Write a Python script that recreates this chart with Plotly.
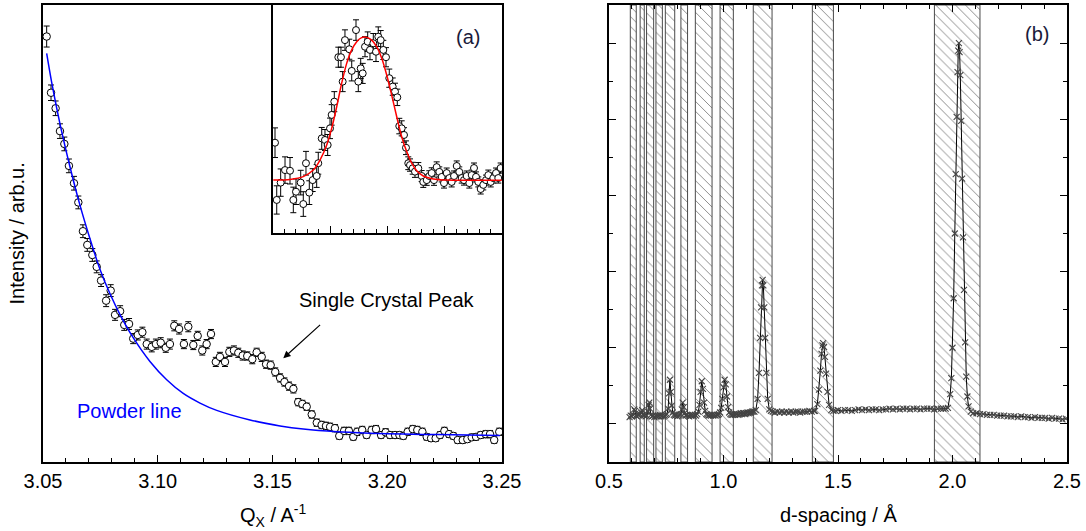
import plotly.graph_objects as go

FONT = "Arial, Liberation Sans, sans-serif"

# ---------------- Panel (a): single-crystal peak on powder background ----------------
q_main = [3.0516, 3.0535, 3.0555, 3.0574, 3.0593, 3.0613, 3.0635, 3.0654, 3.0674, 3.0693,
          3.0715, 3.0734, 3.0753, 3.0775, 3.0795, 3.0814, 3.0836, 3.0854, 3.0875, 3.0893,
          3.0913, 3.0933, 3.0952, 3.0974, 3.0992, 3.1013, 3.1035, 3.1053, 3.1072, 3.1093,
          3.1114, 3.1133, 3.1155, 3.1174, 3.1194, 3.1213, 3.1232, 3.1253, 3.1271, 3.1293,
          3.1312, 3.1332, 3.1351, 3.1370, 3.1390, 3.1412, 3.1431, 3.1453, 3.1472, 3.1492,
          3.1512, 3.1533, 3.1552, 3.1572, 3.1591, 3.1612, 3.1630, 3.1649, 3.1671, 3.1693,
          3.1714, 3.1733, 3.1751, 3.1772, 3.1791, 3.1812, 3.1833, 3.1852, 3.1869, 3.1891,
          3.1910, 3.1932, 3.1951, 3.1973, 3.1993, 3.2012, 3.2034, 3.2053, 3.2070, 3.2089,
          3.2111, 3.2131, 3.2153, 3.2172, 3.2191, 3.2211, 3.2230, 3.2249, 3.2269, 3.2288,
          3.2307, 3.2329, 3.2349, 3.2368, 3.2387, 3.2407, 3.2429, 3.2448, 3.2466, 3.2488]
i_main = [93.1, 80.8, 77.4, 72.4, 69.6, 64.8, 61.0, 56.8, 50.5, 47.5,
          45.3, 42.7, 39.7, 35.3, 37.5, 32.2, 33.0, 30.0, 30.2, 27.0,
          27.8, 28.4, 25.8, 25.2, 25.8, 26.1, 25.0, 25.8, 29.8, 29.1,
          25.8, 29.6, 25.6, 27.6, 24.4, 25.8, 28.0, 21.9, 23.0, 21.9,
          24.1, 24.4, 23.9, 23.3, 23.2, 22.5, 24.0, 23.0, 21.4, 21.2,
          19.7, 18.4, 17.5, 16.6, 16.0, 13.1, 12.7, 12.1, 10.4, 8.6,
          8.1, 7.9, 7.7, 7.4, 5.7, 6.8, 6.8, 5.5, 6.6, 7.0,
          5.9, 7.0, 7.2, 5.9, 6.5, 5.9, 5.9, 5.9, 5.7, 6.6,
          7.2, 7.0, 6.6, 5.5, 5.2, 5.2, 5.9, 6.8, 6.1, 5.7,
          4.8, 4.8, 5.0, 5.4, 5.5, 5.9, 6.1, 6.1, 4.8, 6.6]
err_main = [2.3, 1.7, 1.6, 1.6, 1.5, 1.5, 1.5, 1.4, 1.4, 1.4,
            1.4, 1.3, 1.3, 1.3, 1.3, 1.2, 1.2, 1.2, 1.2, 1.1,
            1.1, 1.1, 1.1, 1.1, 1.1, 1.1, 1.0, 1.1, 1.1, 1.1,
            1.0, 1.1, 1.0, 1.0, 1.0, 1.0, 1.0, 1.0, 1.0, 1.0,
            1.0, 1.0, 1.0, 1.0, 0.9, 1.0, 0.9, 1.0, 0.9, 0.9,
            0.9, 0.9, 0.9, 0.9, 0.9, 0.8, 0.8, 0.8, 0.8, 0.8,
            0.8, 0.8, 0.8, 0.8, 0.7, 0.8, 0.8, 0.7, 0.8, 0.8,
            0.7, 0.8, 0.8, 0.7, 0.8, 0.7, 0.7, 0.7, 0.7, 0.8,
            0.8, 0.8, 0.8, 0.7, 0.7, 0.7, 0.7, 0.8, 0.7, 0.7,
            0.7, 0.7, 0.7, 0.7, 0.7, 0.7, 0.8, 0.8, 0.7, 0.8]

# powder background line
q_powder = [3.0516, 3.0538, 3.0574, 3.0618, 3.0661, 3.0705, 3.0748, 3.0792, 3.0836, 3.0893,
            3.0966, 3.1039, 3.1111, 3.1184, 3.1257, 3.1402, 3.1533, 3.1634, 3.1780, 3.1925,
            3.2070, 3.2215, 3.2491]
i_powder = [89.4, 83.0, 74.0, 64.5, 56.2, 48.8, 42.2, 36.8, 32.2, 27.2,
            22.0, 18.0, 15.0, 12.9, 11.3, 9.2, 7.9, 7.2, 6.6, 6.3,
            6.1, 6.0, 5.8]

# ---------------- Inset: scan through the single-crystal peak ----------------
u_inset = [-1.965, -1.935, -1.866, -1.790, -1.703, -1.645, -1.598, -1.516, -1.471, -1.424,
           -1.366, -1.307, -1.237, -1.209, -1.149, -1.092, -1.045, -1.004, -0.975, -0.929,
           -0.859, -0.813, -0.783, -0.743, -0.667, -0.625, -0.550, -0.510, -0.468, -0.433,
           -0.393, -0.346, -0.306, -0.248, -0.201, -0.161, -0.119, -0.073, -0.026, 0.031,
           0.091, 0.131, 0.171, 0.206, 0.248, 0.288, 0.323, 0.363, 0.393, 0.440,
           0.480, 0.538, 0.597, 0.625, 0.685, 0.730, 0.772, 0.812, 0.859, 0.905,
           0.947, 0.987, 1.034, 1.080, 1.121, 1.162, 1.209, 1.254, 1.296, 1.336,
           1.383, 1.429, 1.471, 1.511, 1.546, 1.586, 1.628, 1.673, 1.721, 1.761,
           1.803, 1.848, 1.895, 1.935, 1.976]
v_inset = [39.6, 14.5, 22.1, 27.6, 27.3, 14.5, 18.1, 22.1, 12.7, 30.6,
           17.7, 23.2, 25.0, 30.6, 41.5, 40.8, 38.6, 45.9, 51.8, 57.6,
           77.1, 77.1, 66.4, 84.6, 80.6, 71.1, 89.0, 66.4, 72.2, 70.0,
           81.7, 83.9, 80.3, 83.2, 79.5, 86.1, 84.6, 80.3, 77.1, 67.9,
           64.2, 62.0, 59.5, 46.9, 45.9, 43.0, 37.4, 30.6, 29.8, 28.4,
           26.9, 28.4, 25.0, 22.4, 23.2, 25.0, 26.3, 23.2, 28.9, 26.8,
           24.6, 21.9, 26.3, 24.1, 22.4, 25.0, 29.4, 26.8, 24.1, 23.2,
           25.0, 21.9, 25.4, 28.5, 24.6, 22.4, 19.3, 21.1, 23.2, 25.4,
           22.4, 24.1, 26.3, 24.1, 28.5]
err_inset = [6.5, 6.2, 6.0, 5.8, 5.8, 5.6, 5.6, 5.4, 5.4, 5.2,
             5.2, 5.0, 5.0, 4.8, 4.8, 4.6, 4.6, 4.5, 4.5, 4.4,
             4.4, 4.4, 4.4, 4.5, 4.4, 4.4, 4.5, 4.4, 4.4, 4.4,
             4.4, 4.3, 4.3, 4.3, 4.3, 4.3, 4.2, 4.2, 4.2, 4.0,
             3.8, 3.7, 3.6, 3.4, 3.3, 3.2, 3.0, 2.8, 2.7, 2.6,
             2.5, 2.5, 2.4, 2.4, 2.3, 2.3, 2.3, 2.3, 2.3, 2.2,
             2.2, 2.2, 2.2, 2.2, 2.2, 2.2, 2.2, 2.2, 2.2, 2.2,
             2.2, 2.2, 2.2, 2.2, 2.2, 2.2, 2.2, 2.2, 2.2, 2.2,
             2.2, 2.2, 2.2, 2.2, 2.2]

# fitted peak profile
u_fit = [-1.995, -1.703, -1.471, -1.296, -1.179, -1.062, -0.975, -0.887, -0.800, -0.713,
         -0.625, -0.538, -0.451, -0.363, -0.276, -0.189, -0.101, -0.014, 0.073, 0.161,
         0.248, 0.335, 0.423, 0.510, 0.625, 0.800, 1.034, 1.441, 1.995]
v_fit = [23.2, 23.5, 24.7, 27.6, 32.0, 38.6, 45.9, 55.4, 65.7, 74.4,
         80.3, 83.9, 85.7, 85.8, 84.6, 81.7, 76.6, 69.3, 60.5, 51.0,
         42.2, 35.7, 30.6, 27.3, 25.0, 23.7, 23.2, 23.1, 23.1]

# ---------------- Panel (b): powder pattern vs d-spacing ----------------
d_spacing = [0.590, 0.595, 0.600, 0.605, 0.610, 0.614, 0.618, 0.622, 0.627, 0.632,
             0.636, 0.640, 0.645, 0.650, 0.655, 0.660, 0.665, 0.670, 0.673, 0.676,
             0.679, 0.683, 0.688, 0.693, 0.698, 0.703, 0.708, 0.713, 0.718, 0.723,
             0.728, 0.733, 0.738, 0.743, 0.748, 0.753, 0.758, 0.762, 0.766, 0.770,
             0.774, 0.778, 0.783, 0.788, 0.793, 0.798, 0.803, 0.808, 0.813, 0.818,
             0.822, 0.826, 0.830, 0.835, 0.840, 0.845, 0.850, 0.855, 0.860, 0.865,
             0.870, 0.875, 0.880, 0.885, 0.890, 0.895, 0.900, 0.905, 0.910, 0.915,
             0.920, 0.925, 0.930, 0.935, 0.940, 0.945, 0.950, 0.955, 0.960, 0.965,
             0.970, 0.975, 0.980, 0.985, 0.990, 0.995, 1.000, 1.005, 1.010, 1.015,
             1.020, 1.025, 1.030, 1.035, 1.040, 1.045, 1.050, 1.055, 1.060, 1.065,
             1.070, 1.075, 1.080, 1.085, 1.090, 1.095, 1.100, 1.105, 1.110, 1.115,
             1.120, 1.125, 1.130, 1.135, 1.141, 1.149, 1.155, 1.160, 1.164, 1.168,
             1.171, 1.174, 1.178, 1.182, 1.187, 1.193, 1.200, 1.207, 1.215, 1.225,
             1.235, 1.245, 1.255, 1.265, 1.275, 1.285, 1.295, 1.305, 1.315, 1.325,
             1.335, 1.345, 1.355, 1.365, 1.375, 1.385, 1.395, 1.400, 1.410, 1.417,
             1.423, 1.428, 1.432, 1.435, 1.439, 1.443, 1.448, 1.454, 1.461, 1.471,
             1.480, 1.490, 1.500, 1.515, 1.530, 1.545, 1.560, 1.575, 1.590, 1.605,
             1.620, 1.635, 1.650, 1.665, 1.680, 1.695, 1.710, 1.725, 1.740, 1.755,
             1.770, 1.785, 1.800, 1.815, 1.830, 1.845, 1.860, 1.875, 1.890, 1.905,
             1.920, 1.935, 1.950, 1.960, 1.970, 1.980, 1.990, 1.995, 2.000, 2.005,
             2.010, 2.014, 2.018, 2.022, 2.025, 2.028, 2.031, 2.034, 2.038, 2.042,
             2.046, 2.050, 2.055, 2.060, 2.065, 2.070, 2.080, 2.090, 2.105, 2.120,
             2.135, 2.150, 2.165, 2.180, 2.195, 2.210, 2.225, 2.240, 2.255, 2.270,
             2.285, 2.300, 2.315, 2.330, 2.345, 2.360, 2.375, 2.390, 2.405, 2.420,
             2.435, 2.450, 2.465, 2.480, 2.495]
intensity_b = [0.09, 0.11, 0.10, 0.12, 0.19, 0.17, 0.11, 0.10, 0.12, 0.12,
               0.13, 0.15, 0.18, 0.12, 0.11, 0.10, 0.11, 0.16, 0.25, 0.28,
               0.20, 0.12, 0.10, 0.11, 0.09, 0.11, 0.10, 0.11, 0.10, 0.12,
               0.10, 0.11, 0.10, 0.11, 0.12, 0.13, 0.20, 0.40, 0.58, 0.42,
               0.24, 0.15, 0.12, 0.11, 0.12, 0.10, 0.11, 0.12, 0.13, 0.19,
               0.28, 0.22, 0.14, 0.11, 0.12, 0.11, 0.10, 0.12, 0.11, 0.12,
               0.11, 0.12, 0.11, 0.13, 0.16, 0.25, 0.42, 0.56, 0.46, 0.28,
               0.17, 0.13, 0.12, 0.11, 0.12, 0.11, 0.12, 0.11, 0.12, 0.11,
               0.12, 0.12, 0.13, 0.15, 0.21, 0.33, 0.48, 0.58, 0.52, 0.36,
               0.22, 0.15, 0.13, 0.12, 0.12, 0.13, 0.12, 0.13, 0.13, 0.12,
               0.13, 0.14, 0.13, 0.14, 0.14, 0.13, 0.14, 0.15, 0.14, 0.15,
               0.15, 0.16, 0.16, 0.16, 0.18, 0.33, 0.67, 1.13, 1.53, 1.82,
               1.89, 1.82, 1.53, 1.13, 0.67, 0.33, 0.19, 0.17, 0.16, 0.15,
               0.16, 0.15, 0.16, 0.15, 0.16, 0.15, 0.16, 0.15, 0.16, 0.16,
               0.15, 0.16, 0.16, 0.16, 0.17, 0.16, 0.17, 0.17, 0.26, 0.45,
               0.70, 0.92, 1.03, 1.06, 1.01, 0.88, 0.66, 0.42, 0.25, 0.18,
               0.17, 0.17, 0.18, 0.17, 0.18, 0.18, 0.17, 0.18, 0.19, 0.18,
               0.19, 0.18, 0.19, 0.19, 0.18, 0.19, 0.19, 0.20, 0.19, 0.20,
               0.19, 0.20, 0.20, 0.19, 0.20, 0.20, 0.19, 0.20, 0.20, 0.20,
               0.19, 0.20, 0.20, 0.20, 0.20, 0.21, 0.39, 0.60, 1.00, 1.65,
               2.50, 3.28, 4.03, 4.62, 4.90, 5.00, 4.88, 4.58, 3.98, 3.22,
               2.45, 1.76, 1.07, 0.62, 0.36, 0.23, 0.16, 0.14, 0.14, 0.13,
               0.13, 0.12, 0.12, 0.12, 0.11, 0.11, 0.11, 0.10, 0.10, 0.10,
               0.09, 0.10, 0.09, 0.09, 0.08, 0.09, 0.08, 0.08, 0.08, 0.07,
               0.08, 0.07, 0.07, 0.06, 0.07]

# excluded d-spacing windows (hatched)
band_lo = [0.593, 0.636, 0.664, 0.705, 0.746, 0.814, 0.877, 0.985, 1.130, 1.388, 1.921]
band_hi = [0.619, 0.654, 0.695, 0.733, 0.787, 0.843, 0.950, 1.043, 1.212, 1.480, 2.120]

Y_RANGE_B = [-0.5, 5.5]

fig = go.Figure()

# hatched windows as full-height bars in panel (b)
fig.add_trace(go.Bar(
    x=[(a + b) / 2 for a, b in zip(band_lo, band_hi)],
    y=[Y_RANGE_B[1] - Y_RANGE_B[0]] * len(band_lo),
    base=Y_RANGE_B[0],
    width=[b - a for a, b in zip(band_lo, band_hi)],
    xaxis="x2", yaxis="y2",
    marker=dict(color="white", line=dict(color="#4a4a4a", width=1),
                pattern=dict(shape="\\", fgcolor="#1a1a1a", size=7, solidity=0.14,
                             fillmode="overlay")),
    showlegend=False, hoverinfo="skip",
))

fig.add_trace(go.Scatter(
    x=d_spacing, y=intensity_b, xaxis="x2", yaxis="y2",
    mode="lines+markers",
    line=dict(color="black", width=1.0),
    marker=dict(symbol="x-thin", size=6, line=dict(color="#444444", width=1.1)),
    showlegend=False,
))

# panel (a) data
fig.add_trace(go.Scatter(
    x=q_main, y=i_main, mode="markers",
    error_y=dict(type="data", array=err_main, color="black", thickness=1, width=3),
    marker=dict(symbol="circle", size=7.5, color="white", line=dict(color="black", width=1)),
    showlegend=False,
))
fig.add_trace(go.Scatter(
    x=q_powder, y=i_powder, mode="lines",
    line=dict(color="#0000ff", width=1.5, shape="spline", smoothing=0.8),
    showlegend=False,
))

# inset
fig.add_trace(go.Scatter(
    x=u_inset, y=v_inset, xaxis="x3", yaxis="y3", mode="markers",
    error_y=dict(type="data", array=err_inset, color="black", thickness=1, width=3),
    marker=dict(symbol="circle", size=7, color="white", line=dict(color="black", width=1)),
    showlegend=False,
))
fig.add_trace(go.Scatter(
    x=u_fit, y=v_fit, xaxis="x3", yaxis="y3", mode="lines",
    line=dict(color="#ff0000", width=1.5, shape="spline", smoothing=0.8),
    showlegend=False,
))

W, H = 1086, 531
L_A, R_A = 43, 502
L_B, R_B = 609, 1067
INSET_L = 273
INSET_BOTTOM_FRAC = (462 - 233) / 457

axis_line = dict(showline=True, linecolor="black", linewidth=1.5, showgrid=False,
                 zeroline=False, automargin=False)
tickfont = dict(family=FONT, size=20, color="black")

fig.update_layout(
    width=W, height=H,
    margin=dict(l=0, r=0, t=5, b=69, autoexpand=False),
    paper_bgcolor="white", plot_bgcolor="white",
    barmode="overlay",
    font=dict(family=FONT, size=20, color="black"),
    xaxis=dict(domain=[L_A / W, R_A / W], range=[3.05, 3.25], anchor="y",
               tickmode="linear", tick0=3.05, dtick=0.05, tickformat=".2f",
               ticks="inside", ticklen=7, tickwidth=1, tickcolor="black",
               minor=dict(tick0=3.05, dtick=0.01, ticks="inside", ticklen=4,
                          tickcolor="black", showgrid=False),
               mirror=True, tickfont=tickfont, **axis_line),
    yaxis=dict(domain=[0, 1], range=[0, 100], anchor="x", showticklabels=False,
               ticks="", mirror=True, **axis_line),
    # top-edge ticks of panel (a), left of the inset
    xaxis4=dict(domain=[L_A / W, INSET_L / W],
                range=[3.05, 3.05 + (INSET_L - L_A) / (R_A - L_A) * 0.2],
                anchor="y", side="top", showline=False, showgrid=False, zeroline=False,
                automargin=False,
                tickmode="linear", tick0=3.05, dtick=0.05, showticklabels=False,
                ticks="inside", ticklen=7, tickwidth=1, tickcolor="black",
                minor=dict(tick0=3.05, dtick=0.01, ticks="inside", ticklen=4,
                           tickcolor="black", showgrid=False)),
    xaxis3=dict(domain=[INSET_L / W, R_A / W], range=[-2, 2], anchor="y3",
                tickmode="linear", tick0=0, dtick=1, showticklabels=False,
                ticks="inside", ticklen=7, tickwidth=1, tickcolor="black",
                minor=dict(dtick=0.2, ticks="inside", ticklen=4, tickcolor="black",
                           showgrid=False),
                mirror=True, **axis_line),
    yaxis3=dict(domain=[INSET_BOTTOM_FRAC, 1], range=[0, 100], anchor="x3",
                showticklabels=False, ticks="", mirror=True, **axis_line),
    xaxis2=dict(domain=[L_B / W, R_B / W], range=[0.5, 2.5], anchor="y2",
                tickmode="linear", tick0=0.5, dtick=0.5, tickformat=".1f",
                ticks="inside", ticklen=7, tickwidth=1, tickcolor="black",
                minor=dict(dtick=0.1, ticks="inside", ticklen=4, tickcolor="black",
                           showgrid=False),
                mirror="allticks", tickfont=tickfont, **axis_line),
    yaxis2=dict(domain=[0, 1], range=Y_RANGE_B, anchor="x2",
                tickmode="linear", tick0=0, dtick=1, showticklabels=False,
                ticks="inside", ticklen=7, tickwidth=1, tickcolor="black",
                minor=dict(dtick=0.5, ticks="inside", ticklen=4, tickcolor="black",
                           showgrid=False),
                mirror="allticks", **axis_line),
)

title_y = (462 - 515) / 457
annotations = [
    dict(text="Intensity / arb.u.", xref="paper", yref="paper",
         x=16 / W, y=0.5, textangle=-90, showarrow=False,
         xanchor="center", yanchor="middle", font=dict(size=20)),
    dict(text="Q<sub>X</sub> / A<sup>-1</sup>", xref="paper", yref="paper",
         x=(L_A + R_A) / 2 / W, y=title_y, showarrow=False,
         xanchor="center", yanchor="middle", font=dict(size=20)),
    dict(text="d-spacing / Å", xref="paper", yref="paper",
         x=(L_B + R_B) / 2 / W, y=title_y, showarrow=False,
         xanchor="center", yanchor="middle", font=dict(size=20)),
    dict(text="Powder line", xref="x", yref="y", x=3.0875, y=11.2, showarrow=False,
         font=dict(size=20, color="#0000ff")),
    dict(text="Single Crystal Peak", xref="x", yref="y", x=3.1999, y=35.4,
         showarrow=False, font=dict(size=20)),
    dict(text="", xref="x", yref="y", x=3.1547, y=22.7, ax=3.1714, ay=30.3,
         axref="x", ayref="y", showarrow=True, arrowhead=2, arrowsize=1.2,
         arrowwidth=1.2, arrowcolor="black"),
    dict(text="(a)", xref="x3", yref="y3", x=1.406, y=86.0, showarrow=False,
         font=dict(size=20, color="#1a1a3a")),
    dict(text="(b)", xref="x2", yref="y2", x=2.369, y=5.12, showarrow=False,
         font=dict(size=20, color="#1a1a3a")),
]
fig.update_layout(annotations=annotations)

fig.write_html("out.html")
